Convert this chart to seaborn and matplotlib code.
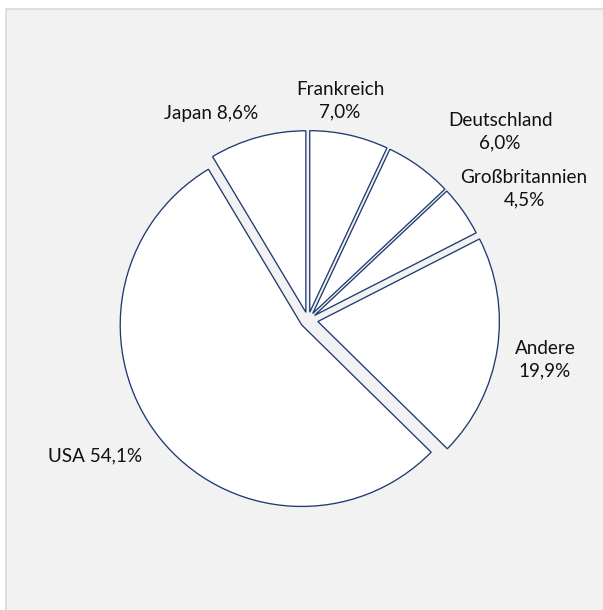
import matplotlib
matplotlib.use("Agg")
import matplotlib.pyplot as plt
import seaborn as sns
from matplotlib.patches import Rectangle

sns.set_theme(style="white")
plt.rcParams['font.family'] = ['Lato', 'DejaVu Sans']

# data (clockwise from 12 o'clock)
countries = ["Frankreich", "Deutschland", "Großbritannien", "Andere", "USA", "Japan"]
shares = [7.0, 6.0, 4.5, 19.9, 54.1, 8.6]

# layout / style
W, H = 603, 610
center = (308, H - 320)
radius = 181.5
explode_px = [8, 8, 8, 10, 8, 8]
label_pos = [(340, 101), (500, 132), (524, 189), (545, 360), (95, 456), (211, 114)]
two_line = [True, True, True, True, False, False]
edge_col = "#203a72"

fig = plt.figure(figsize=(W / 100, H / 100), dpi=100)
fig.patch.set_facecolor("white")
ax = fig.add_axes([0, 0, 1, 1])

ax.add_patch(Rectangle((5.5, -20), W + 40, H - 8.5 + 20, facecolor="#f2f2f2",
                       edgecolor="#d9d9d9", linewidth=1.2, zorder=0))

ax.pie(shares, explode=explode_px, center=center, radius=radius, startangle=90,
       counterclock=False, colors=["white"] * len(shares),
       wedgeprops=dict(edgecolor=edge_col, linewidth=0.95), frame=True)
ax.set_xlim(0, W)
ax.set_ylim(0, H)
ax.set_aspect("equal")
ax.axis("off")

for name, val, (lx, ly), tl in zip(countries, shares, label_pos, two_line):
    pct = f"{val:.1f}".replace(".", ",") + "%"
    txt = f"{name}\n{pct}" if tl else f"{name} {pct}"
    ax.text(lx, H - ly, txt, ha="center", va="center", fontsize=13.6,
            color="#111111", linespacing=1.4, zorder=5)

fig.savefig("out.png", dpi=100, facecolor="white")
